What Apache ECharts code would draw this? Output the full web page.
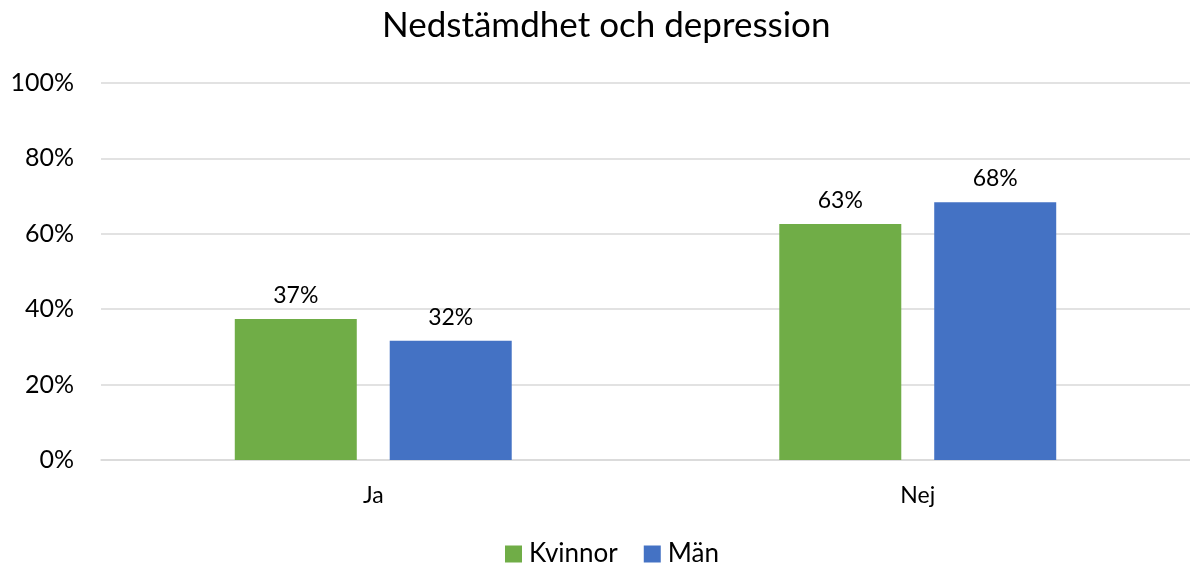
<!DOCTYPE html>
<html>
<head>
<meta charset="utf-8">
<title>Nedstämdhet och depression</title>
<script src="https://cdn.jsdelivr.net/npm/echarts@6/dist/echarts.min.js"></script>
<style>
  html, body { margin: 0; padding: 0; background: #fff; }
  #chart { width: 1190px; height: 572px; }
</style>
</head>
<body>
<div id="chart"></div>
<script>
// Data
const categories = ['Ja', 'Nej'];
const kvinnor = [37.4, 62.6];
const man = [31.6, 68.4];
const yTicks = [0, 20, 40, 60, 80, 100];

const FONT = 'Lato, "Open Sans", sans-serif';

const chart = echarts.init(document.getElementById('chart'));

const labelStyle = {
    show: true,
    position: 'top',
    distance: 12,
    color: '#000',
    fontSize: 23,
    fontFamily: FONT,
    formatter: p => Math.round(p.value) + '%'
};

chart.setOption({
    animation: false,
    title: {
        text: 'Nedstämdhet och depression',
        left: 377,
        top: 3,
        textStyle: { color: '#000', fontSize: 35, fontWeight: 'normal', fontFamily: FONT }
    },
    legend: {
        bottom: 0,
        left: 500,
        itemWidth: 17,
        itemHeight: 17,
        itemGap: 26,
        icon: 'rect',
        textStyle: { color: '#000', fontSize: 26, fontFamily: FONT, padding: [0, 0, 0, 2] },
        data: ['Kvinnor', 'Män']
    },
    grid: { left: 101, right: 0, top: 83, bottom: 112 },
    xAxis: {
        type: 'category',
        data: categories,
        axisLine: { lineStyle: { color: '#d9d9d9', width: 1.5 } },
        axisTick: { show: false },
        axisLabel: { color: '#000', fontSize: 23, fontFamily: FONT, margin: 24 }
    },
    yAxis: {
        type: 'value',
        min: yTicks[0],
        max: yTicks[yTicks.length - 1],
        interval: 20,
        axisLine: { show: false },
        axisTick: { show: false },
        splitLine: { lineStyle: { color: '#d9d9d9', width: 1.5 } },
        axisLabel: { color: '#000', fontSize: 25, fontFamily: FONT, margin: 27, formatter: '{value}%' }
    },
    series: [
        {
            name: 'Kvinnor',
            type: 'bar',
            data: kvinnor,
            barWidth: 122,
            barGap: '27%',
            itemStyle: { color: '#70ad47' },
            label: labelStyle
        },
        {
            name: 'Män',
            type: 'bar',
            data: man,
            barWidth: 122,
            barGap: '27%',
            itemStyle: { color: '#4472c4' },
            label: labelStyle
        }
    ]
});
</script>
</body>
</html>
